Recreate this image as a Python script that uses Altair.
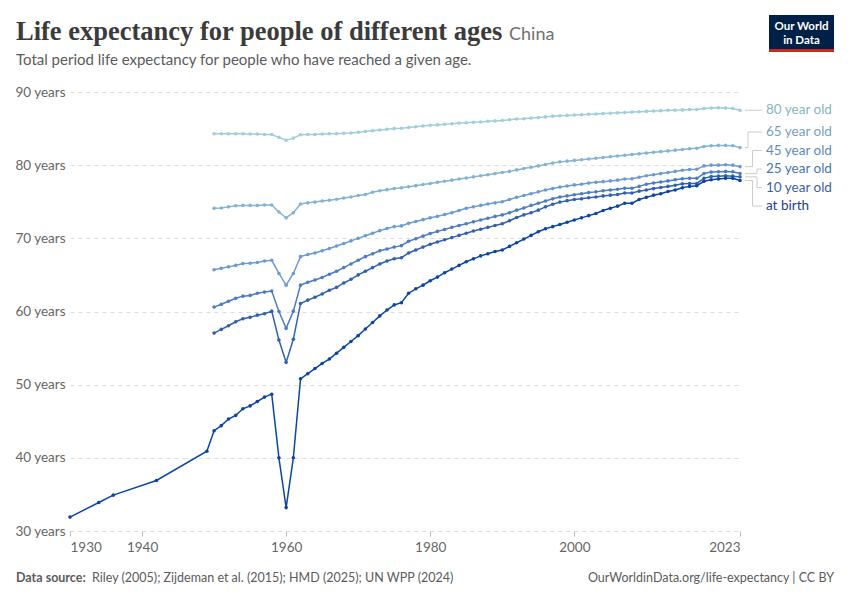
import altair as alt
import pandas as pd

# ---------------- data ----------------
years = list(range(1950, 2024))

birth_early_years = [1930, 1934, 1936, 1942, 1949]
birth_early_values = [31.9, 33.9, 34.9, 36.9, 40.9]

at_birth = [43.7, 44.4, 45.3, 45.8, 46.7, 47.1, 47.7, 48.3, 48.7, 40.0,
            33.2, 40.0, 50.8, 51.5, 52.2, 52.9, 53.5, 54.3, 55.1, 55.9,
            56.7, 57.6, 58.5, 59.4, 60.2, 60.9, 61.2, 62.5, 63.1, 63.6,
            64.2, 64.7, 65.3, 65.8, 66.3, 66.8, 67.2, 67.6, 67.9, 68.2,
            68.4, 68.9, 69.4, 69.9, 70.4, 70.9, 71.3, 71.6, 71.9, 72.2,
            72.5, 72.8, 73.1, 73.4, 73.8, 74.1, 74.4, 74.8, 74.8, 75.3,
            75.6, 75.9, 76.1, 76.4, 76.6, 76.9, 77.1, 77.2, 77.8, 78.0,
            78.1, 78.2, 78.2, 77.9]

age10 = [57.05, 57.55, 58.05, 58.6, 59.0, 59.2, 59.5, 59.7, 60.05, 56.1,
         53.05, 56.2, 61.1, 61.55, 61.95, 62.4, 62.9, 63.3, 63.9, 64.4,
         65.0, 65.5, 66.0, 66.5, 66.9, 67.2, 67.35, 68.0, 68.4, 68.8,
         69.2, 69.5, 69.8, 70.1, 70.4, 70.7, 71.0, 71.25, 71.5, 71.75,
         72.0, 72.4, 72.85, 73.2, 73.5, 73.85, 74.3, 74.65, 74.95, 75.15,
         75.3, 75.4, 75.55, 75.65, 75.8, 75.9, 76.0, 76.2, 76.2, 76.45,
         76.6, 76.8, 76.95, 77.1, 77.25, 77.45, 77.5, 77.5, 78.2, 78.45,
         78.5, 78.55, 78.5, 78.4]

age25 = [60.6, 61.0, 61.4, 61.8, 62.1, 62.2, 62.5, 62.65, 62.8, 60.0,
         57.7, 60.05, 63.6, 64.0, 64.3, 64.65, 65.1, 65.5, 66.0, 66.5,
         67.0, 67.5, 67.9, 68.3, 68.55, 68.8, 69.0, 69.6, 69.95, 70.3,
         70.65, 70.95, 71.2, 71.5, 71.75, 72.0, 72.25, 72.5, 72.75, 73.0,
         73.2, 73.5, 73.85, 74.15, 74.5, 74.8, 75.1, 75.4, 75.65, 75.8,
         75.95, 76.1, 76.25, 76.35, 76.5, 76.6, 76.7, 76.85, 76.85, 77.1,
         77.4, 77.55, 77.7, 77.85, 78.0, 78.15, 78.2, 78.2, 78.85, 79.05,
         79.1, 79.15, 79.1, 78.85]

age45 = [65.7, 65.9, 66.1, 66.3, 66.55, 66.6, 66.7, 66.9, 67.0, 65.2,
         63.6, 65.2, 67.5, 67.8, 68.0, 68.3, 68.6, 68.95, 69.3, 69.65,
         70.0, 70.35, 70.7, 71.05, 71.35, 71.6, 71.7, 72.05, 72.3, 72.55,
         72.8, 73.0, 73.25, 73.5, 73.8, 74.1, 74.3, 74.5, 74.7, 74.85,
         75.0, 75.3, 75.6, 75.85, 76.1, 76.35, 76.6, 76.8, 77.0, 77.15,
         77.3, 77.4, 77.55, 77.65, 77.75, 77.85, 77.95, 78.1, 78.15, 78.35,
         78.55, 78.7, 78.85, 79.0, 79.15, 79.3, 79.4, 79.45, 79.9, 80.0,
         80.0, 80.05, 80.0, 79.8]

age65 = [74.1, 74.15, 74.3, 74.45, 74.5, 74.5, 74.5, 74.55, 74.55, 73.6,
         72.8, 73.5, 74.7, 74.85, 74.95, 75.1, 75.2, 75.35, 75.5, 75.65,
         75.85, 76.0, 76.3, 76.5, 76.65, 76.8, 76.9, 77.05, 77.2, 77.35,
         77.5, 77.65, 77.8, 77.95, 78.1, 78.25, 78.4, 78.55, 78.7, 78.85,
         79.0, 79.15, 79.35, 79.55, 79.7, 79.9, 80.1, 80.3, 80.45, 80.55,
         80.65, 80.75, 80.85, 80.95, 81.05, 81.15, 81.25, 81.35, 81.45, 81.55,
         81.65, 81.75, 81.85, 81.95, 82.05, 82.15, 82.25, 82.3, 82.55, 82.65,
         82.7, 82.7, 82.65, 82.4]

age80 = [84.3, 84.3, 84.3, 84.3, 84.3, 84.25, 84.25, 84.2, 84.2, 83.8,
         83.4, 83.7, 84.15, 84.2, 84.2, 84.25, 84.3, 84.3, 84.35, 84.4,
         84.5, 84.6, 84.7, 84.8, 84.9, 85.0, 85.05, 85.15, 85.25, 85.35,
         85.45, 85.5, 85.6, 85.65, 85.75, 85.8, 85.85, 85.9, 86.0, 86.05,
         86.1, 86.2, 86.3, 86.35, 86.45, 86.5, 86.6, 86.7, 86.75, 86.8,
         86.85, 86.9, 86.95, 87.0, 87.05, 87.1, 87.15, 87.2, 87.25, 87.3,
         87.35, 87.4, 87.45, 87.5, 87.5, 87.55, 87.6, 87.6, 87.75, 87.8,
         87.85, 87.8, 87.75, 87.5]

series_names = ["80 year old", "65 year old", "45 year old",
                "25 year old", "10 year old", "at birth"]
line_colors = ["#a0cfd8", "#84b3d4", "#6b9bd0", "#4d7cc2", "#3260b0", "#0b46a5"]
label_colors = ["#86b6c0", "#789fbf", "#6089bf", "#4b73b3", "#3a5ea8", "#183f94"]

x_ticks = [1930, 1940, 1960, 1980, 2000, 2023]
y_ticks = [30, 40, 50, 60, 70, 80, 90]

# ---------------- build tables ----------------
rows = []
for yr, v in zip(birth_early_years, birth_early_values):
    rows.append({"year": yr, "value": v, "series": "at birth"})
for name, vals in zip(series_names,
                      [age80, age65, age45, age25, age10, at_birth]):
    for yr, v in zip(years, vals):
        rows.append({"year": yr, "value": v, "series": name})
df = pd.DataFrame(rows)

W, H = 670, 439
X0, X1 = 1930, 2023
Y0, Y1 = 30, 90
px_year = W / (X1 - X0)
px_val = H / (Y1 - Y0)

# label placement (simple cluster-based collision avoidance)
end_vals = {n: df[df.series == n].sort_values("year").value.iloc[-1] for n in series_names}
order = sorted(series_names, key=lambda n: -end_vals[n])
spacing = 18.5 / px_val
clusters = [[n] for n in order]


def positions(cl):
    c = sum(end_vals[n] for n in cl) / len(cl)
    k = len(cl)
    return [c + ((k - 1) / 2 - i) * spacing for i in range(k)]


changed = True
while changed:
    changed = False
    for i in range(len(clusters) - 1):
        a, b = positions(clusters[i]), positions(clusters[i + 1])
        if a[-1] - b[0] < spacing - 1e-9:
            clusters[i] = clusters[i] + clusters[i + 1]
            del clusters[i + 1]
            changed = True
            break
label_pos = {}
for cl in clusters:
    for n, p in zip(cl, positions(cl)):
        label_pos[n] = p

elbow_px = {"80 year old": 12, "65 year old": 8, "45 year old": 12.5,
            "25 year old": 17, "10 year old": 17, "at birth": 12.5}
conn = []
for n in series_names:
    xe = X1 + elbow_px[n] / px_year
    conn.append({"series": n,
                 "xa": X1 + 5 / px_year, "xe": xe, "xb": X1 + 22 / px_year,
                 "xl": X1 + 26 / px_year,
                 "yend": end_vals[n], "ylab": label_pos[n]})
conn_df = pd.DataFrame(conn)

# ---------------- chart ----------------
xscale = alt.Scale(domain=[X0, X1], nice=False, zero=False)
yscale = alt.Scale(domain=[Y0, Y1], nice=False, zero=False)
cscale = alt.Scale(domain=series_names, range=line_colors)
lscale = alt.Scale(domain=series_names, range=label_colors)

lines = alt.Chart(df).mark_line(
    strokeWidth=1.5,
    point=alt.OverlayMarkDef(filled=True, size=13, opacity=1),
).encode(
    x=alt.X("year:Q", scale=xscale,
            axis=alt.Axis(values=x_ticks, format="d", title=None, grid=False,
                          domain=False, ticks=True, tickSize=5, tickColor="#bbbbbb",
                          labelFlush=True, labelPadding=4, labelFontSize=13.5,
                          labelColor="#666666")),
    y=alt.Y("value:Q", scale=yscale,
            axis=alt.Axis(values=y_ticks, title=None, domain=False, ticks=False,
                          tickSize=0, labelPadding=5, labelExpr="datum.value + ' years'",
                          labelFontSize=13.5, labelColor="#666666",
                          grid=True, gridDash=[4, 4], gridColor="#dddddd")),
    color=alt.Color("series:N", scale=cscale, legend=None),
    detail="series:N",
)

c_base = alt.Chart(conn_df)
rule_style = dict(color="#cccccc", strokeWidth=1)
h1 = c_base.mark_rule(**rule_style).encode(
    x="xa:Q", x2="xe:Q", y="yend:Q")
v1 = c_base.mark_rule(**rule_style).encode(
    x="xe:Q", y="yend:Q", y2="ylab:Q")
h2 = c_base.mark_rule(**rule_style).encode(
    x="xe:Q", x2="xb:Q", y="ylab:Q")
labels = c_base.mark_text(align="left", baseline="middle", fontSize=13.5,
                          font="Lato").encode(
    x="xl:Q", y="ylab:Q", text="series:N",
    color=alt.Color("series:N", scale=lscale, legend=None))

one = alt.Data(values=[{"a": 1}])


def txt(s, x, y, **kw):
    return alt.Chart(one).mark_text(text=s, **kw).encode(
        x=alt.value(x), y=alt.value(y))


title = txt("Life expectancy for people of different ages", -54, -52,
            align="left", baseline="alphabetic", font="Liberation Serif",
            fontSize=26.5, fontWeight="bold", color="#3b3b3b")
country = txt("China", 439, -52, align="left", baseline="alphabetic",
              font="Lato", fontSize=18, color="#707070")
subtitle = txt("Total period life expectancy for people who have reached a given age.",
               -54, -27, align="left", baseline="alphabetic", font="Lato",
               fontSize=15, color="#5b5b5b")
foot1 = txt("Data source:", -54, 490, align="left", baseline="alphabetic",
            font="Lato", fontSize=12.5, fontWeight="bold", color="#5b5b5b")
foot2 = txt("Riley (2005); Zijdeman et al. (2015); HMD (2025); UN WPP (2024)",
            22, 490, align="left", baseline="alphabetic", font="Lato",
            fontSize=12.5, color="#5b5b5b")
foot3 = txt("OurWorldinData.org/life-expectancy | CC BY", 764, 490,
            align="right", baseline="alphabetic", font="Lato", fontSize=12.5,
            color="#5b5b5b")

logo_bg = alt.Chart(one).mark_rect(color="#002147").encode(
    x=alt.value(699), x2=alt.value(764), y=alt.value(-77), y2=alt.value(-40))
logo_bar = alt.Chart(one).mark_rect(color="#ce261e").encode(
    x=alt.value(699), x2=alt.value(764), y=alt.value(-43), y2=alt.value(-40))
logo_t1 = txt("Our World", 731.5, -62, align="center", baseline="alphabetic",
              font="Lato", fontSize=11.5, fontWeight="bold", color="#ffffff")
logo_t2 = txt("in Data", 731.5, -48, align="center", baseline="alphabetic",
              font="Lato", fontSize=11.5, fontWeight="bold", color="#ffffff")

chart = alt.layer(
    lines, h1, v1, h2, labels, title, country, subtitle,
    foot1, foot2, foot3, logo_bg, logo_bar, logo_t1, logo_t2,
).resolve_scale(color="independent").properties(
    width=W, height=H,
    autosize=alt.AutoSizeParams(type="none"),
    padding={"left": 62, "top": 84, "right": 102, "bottom": 61},
).configure(font="Lato").configure_view(strokeWidth=0, stroke="transparent")

chart.save("out.html", embed_options={"renderer": "svg", "actions": False})
